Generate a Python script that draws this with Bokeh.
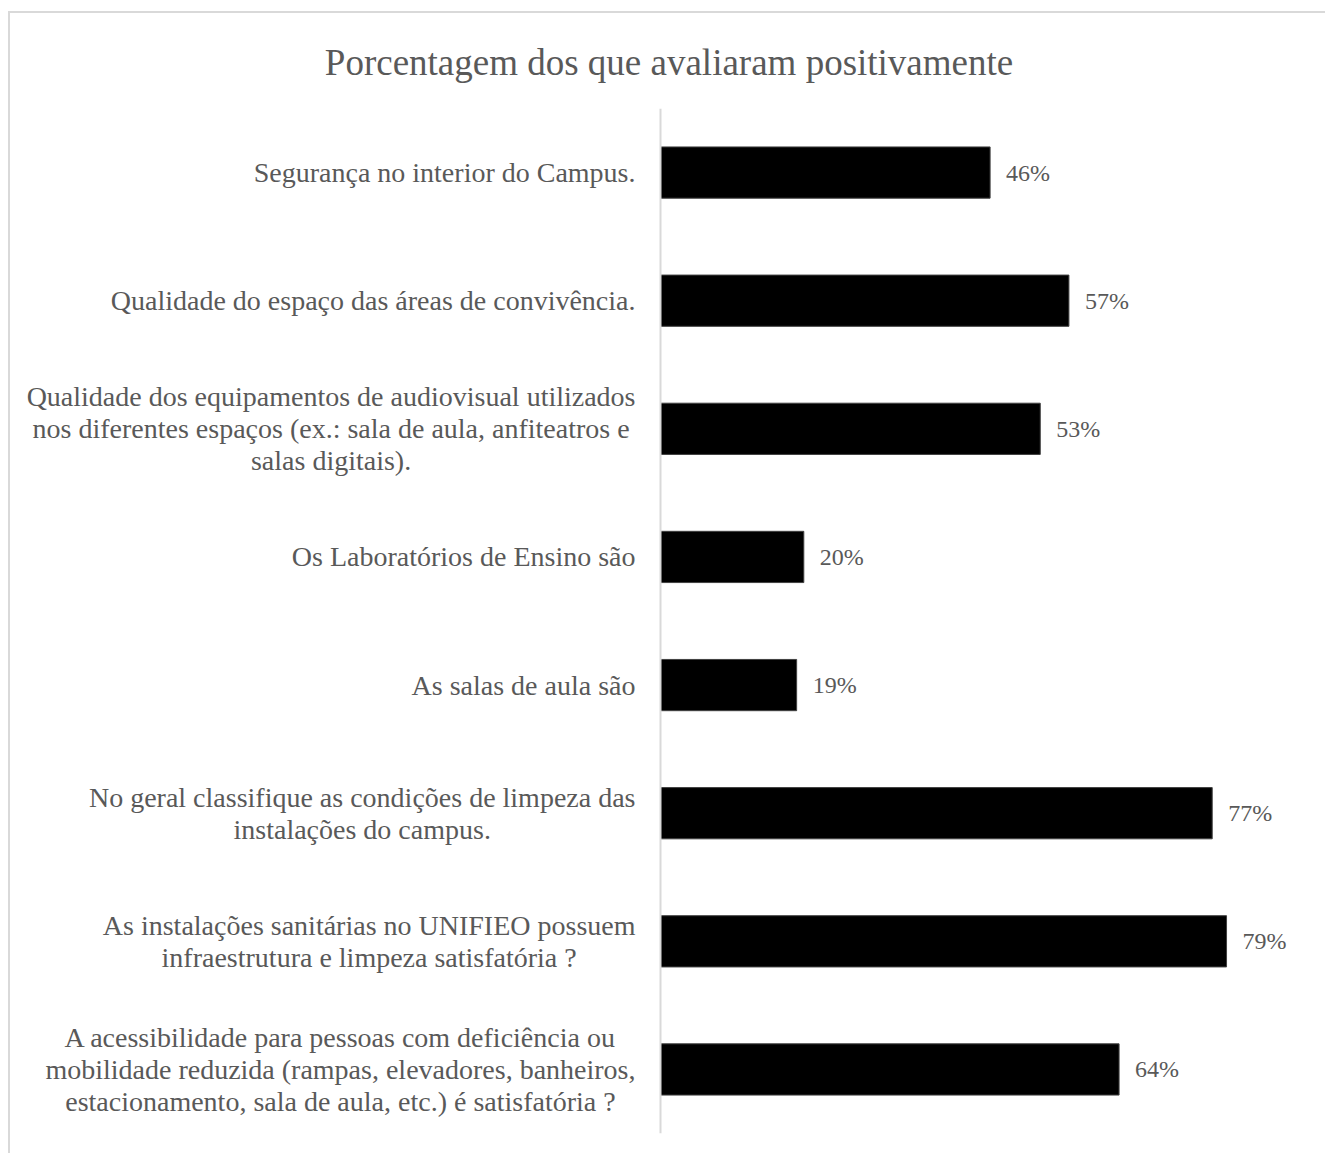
from bokeh.plotting import figure
from bokeh.models import Range1d, FactorRange, Span, ColumnDataSource
from bokeh.core.properties import value
from bokeh.embed import file_html
from bokeh.resources import INLINE

title_text = "Porcentagem dos que avaliaram positivamente"

categories = [
    "Segurança no interior do Campus.",
    "Qualidade do espaço das áreas de convivência.",
    "Qualidade dos equipamentos de audiovisual utilizados\nnos diferentes espaços (ex.: sala de aula, anfiteatros e\nsalas digitais).",
    "Os Laboratórios de Ensino são",
    "As salas de aula são",
    "No geral classifique as condições de limpeza das\ninstalações do campus.",
    "As instalações sanitárias no UNIFIEO possuem\ninfraestrutura e limpeza satisfatória ?",
    "A acessibilidade para pessoas com deficiência ou\nmobilidade reduzida (rampas, elevadores, banheiros,\nestacionamento, sala de aula, etc.) é satisfatória ?",
]
values = [46, 57, 53, 20, 19, 77, 79, 64]
value_labels = [f"{v}%" for v in values]

FONT = "Liberation Serif"
GREY = "#595959"

source = ColumnDataSource(dict(cat=categories, val=values, lab=value_labels, zero=[0] * len(values)))

p = figure(
    width=1317, height=1142,
    x_range=Range1d(-90.72, 93.09),
    y_range=FactorRange(factors=list(reversed(categories)), range_padding=0),
    output_backend="svg", toolbar_location=None,
    min_border_left=0, min_border_right=0, min_border_top=95, min_border_bottom=22,
    title=title_text,
    styles={"margin-top": "11px", "margin-left": "8px",
            "border-left": "2px solid #d9d9d9", "border-top": "2px solid #d9d9d9"},
)
p.title.text_font = FONT
p.title.text_font_size = "37px"
p.title.text_font_style = "normal"
p.title.text_color = GREY
p.title.align = "center"
p.title.vertical_align = "top"
p.title.standoff = 48

p.xaxis.visible = False
p.yaxis.visible = False
p.xgrid.visible = False
p.ygrid.visible = False
p.outline_line_color = None
p.background_fill_color = "white"
p.border_fill_color = "white"

p.add_layout(Span(location=0, dimension="height", line_color="#d9d9d9", line_width=2))

p.hbar(y="cat", left=0, right="val", height=0.4, source=source,
       fill_color="black", line_color="#404040", line_width=1)

p.text(x="val", y="cat", text="lab", source=source, x_offset=16,
       text_font=value(FONT), text_font_size="24px", text_color=GREY,
       text_align="left", text_baseline="middle")

p.text(x="zero", y="cat", text="cat", source=source, x_offset=-25,
       anchor="center_right",
       text_font=value(FONT), text_font_size="28px", text_color=GREY,
       text_align="center", text_baseline="middle", text_line_height=1.03)

open("out.html", "w").write(file_html(p, INLINE))
